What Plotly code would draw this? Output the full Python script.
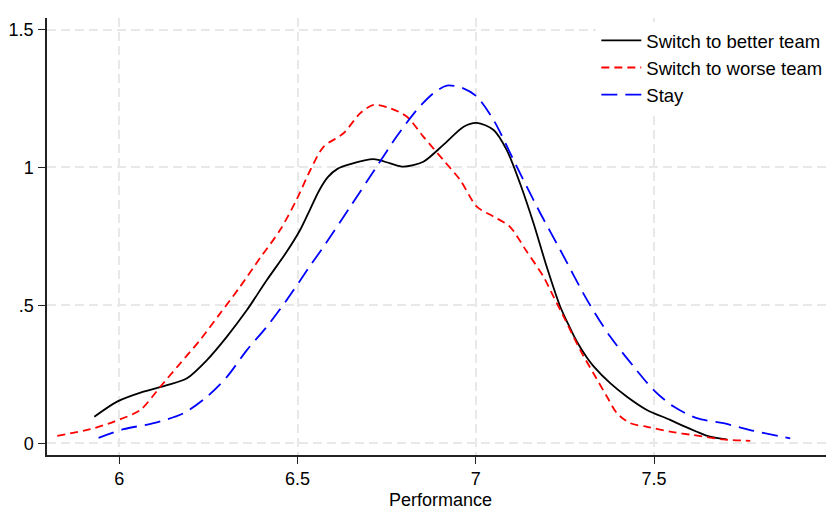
import plotly.graph_objects as go

# Switch to better team
better_x = [5.930, 5.994, 6.068, 6.134, 6.190, 6.246, 6.302, 6.358, 6.414, 6.470, 6.508, 6.536, 6.560,
            6.585, 6.612, 6.648, 6.713, 6.760, 6.797, 6.853, 6.909, 6.966, 7.003, 7.050, 7.087, 7.124,
            7.162, 7.199, 7.237, 7.260, 7.283, 7.312, 7.330, 7.377, 7.424, 7.480, 7.545, 7.582, 7.620,
            7.657, 7.704]
better_y = [0.096, 0.151, 0.187, 0.211, 0.236, 0.302, 0.387, 0.483, 0.592, 0.695, 0.775, 0.850, 0.915,
            0.965, 0.995, 1.012, 1.030, 1.015, 1.003, 1.021, 1.082, 1.148, 1.162, 1.136, 1.063, 0.943,
            0.798, 0.640, 0.495, 0.430, 0.370, 0.310, 0.280, 0.218, 0.169, 0.121, 0.085, 0.063, 0.042,
            0.024, 0.014]

# Switch to worse team
worse_x = [5.826, 5.919, 5.984, 6.059, 6.115, 6.171, 6.227, 6.283, 6.339, 6.395, 6.451, 6.498, 6.536,
           6.573, 6.629, 6.676, 6.713, 6.760, 6.807, 6.853, 6.909, 6.956, 7.003, 7.050, 7.096, 7.143,
           7.190, 7.218, 7.250, 7.293, 7.330, 7.368, 7.396, 7.433, 7.480, 7.545, 7.610, 7.695, 7.770]
worse_y = [0.027, 0.051, 0.078, 0.121, 0.205, 0.290, 0.375, 0.471, 0.568, 0.672, 0.773, 0.885, 0.991,
           1.075, 1.124, 1.197, 1.227, 1.215, 1.184, 1.112, 1.027, 0.955, 0.858, 0.822, 0.785, 0.695,
           0.604, 0.532, 0.450, 0.338, 0.254, 0.169, 0.109, 0.073, 0.060, 0.042, 0.030, 0.014, 0.009]

# Stay
stay_x = [5.942, 6.012, 6.096, 6.180, 6.246, 6.302, 6.358, 6.414, 6.470, 6.536, 6.573, 6.648, 6.722,
          6.778, 6.834, 6.881, 6.919, 6.965, 7.003, 7.050, 7.115, 7.181, 7.237, 7.312, 7.377, 7.443,
          7.499, 7.555, 7.620, 7.695, 7.770, 7.882]
stay_y = [0.020, 0.051, 0.073, 0.109, 0.169, 0.241, 0.338, 0.423, 0.520, 0.645, 0.713, 0.858, 1.003,
          1.112, 1.208, 1.269, 1.297, 1.287, 1.257, 1.172, 1.003, 0.834, 0.701, 0.520, 0.387, 0.278,
          0.193, 0.133, 0.091, 0.073, 0.048, 0.018]

x_ticks = [6, 6.5, 7, 7.5, 8]
x_tick_text = ["6", "6.5", "7", "7.5", "8"]
y_ticks = [0, 0.5, 1, 1.5]
y_tick_text = ["0", ".5", "1", "1.5"]

FONT = "Liberation Sans, Arial, sans-serif"

fig = go.Figure()
fig.add_trace(go.Scatter(x=better_x, y=better_y, mode="lines", name="Switch to better team",
                         line=dict(color="#000000", width=1.8, shape="spline", smoothing=0.8)))
fig.add_trace(go.Scatter(x=worse_x, y=worse_y, mode="lines", name="Switch to worse team",
                         line=dict(color="#ff0000", width=1.8, dash="8px,5px", shape="spline", smoothing=0.8)))
fig.add_trace(go.Scatter(x=stay_x, y=stay_y, mode="lines", name="Stay",
                         line=dict(color="#0000ff", width=1.8, dash="16px,8px", shape="spline", smoothing=0.8)))

grid_style = dict(showgrid=True, gridcolor="#e8e8e8", gridwidth=1.5, griddash="9px,5px")

# page body has an 8px margin, so the figure is 826x502 and offset by 8px
fig.update_layout(
    width=826, height=502,
    margin=dict(l=39, r=0, t=10, b=55, autoexpand=False),
    paper_bgcolor="white", plot_bgcolor="white",
    font=dict(family=FONT, size=18, color="#000000"),
    showlegend=True,
    legend=dict(x=0.698, y=0.991, xanchor="left", yanchor="top", bgcolor="white",
                borderwidth=0, font=dict(size=18.5, family=FONT), itemwidth=40,
                tracegroupgap=0),
    xaxis=dict(range=[5.7973, 8.0048], tickvals=x_ticks, ticktext=x_tick_text,
               showline=True, linecolor="#222222", linewidth=1.5, mirror=False,
               ticks="outside", ticklen=7, tickcolor="#222222", tickwidth=1.3,
               ticklabeloverflow="allow",
               zeroline=False, automargin=False,
               title=dict(text="Performance", standoff=20, font=dict(size=18, family=FONT)),
               **grid_style),
    yaxis=dict(range=[-0.0424, 1.542], tickvals=y_ticks, ticktext=y_tick_text,
               showline=True, linecolor="#222222", linewidth=1.5, mirror=False,
               ticks="outside", ticklen=7, tickcolor="#222222", tickwidth=1.3,
               ticklabelstandoff=1,
               zeroline=False, automargin=False, **grid_style),
)

fig.write_html("out.html")
